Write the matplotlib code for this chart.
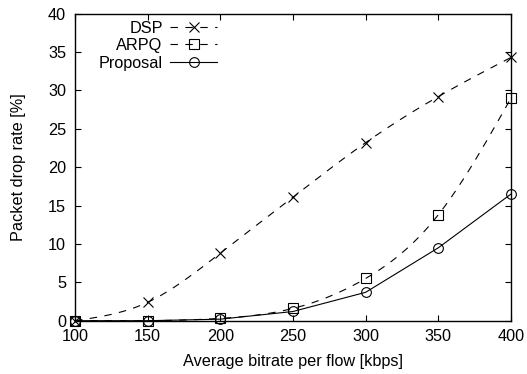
import numpy as np
import matplotlib
matplotlib.use("Agg")
import matplotlib.pyplot as plt
from matplotlib.lines import Line2D

bitrate = [100, 150, 200, 250, 300, 350, 400]
dsp = [0.0, 2.4, 8.8, 16.1, 23.2, 29.2, 34.3]
arpq = [0.0, 0.0, 0.3, 1.6, 5.5, 13.8, 29.0]
proposal = [0.0, 0.0, 0.2, 1.2, 3.7, 9.5, 16.5]
xticks = [100, 150, 200, 250, 300, 350, 400]
yticks = [0, 5, 10, 15, 20, 25, 30, 35, 40]


def natural_spline(x, y, xs):
    x = np.asarray(x, float)
    y = np.asarray(y, float)
    n = len(x)
    h = np.diff(x)
    A = np.zeros((n, n))
    b = np.zeros(n)
    A[0, 0] = 1
    A[-1, -1] = 1
    for i in range(1, n - 1):
        A[i, i - 1] = h[i - 1]
        A[i, i] = 2 * (h[i - 1] + h[i])
        A[i, i + 1] = h[i]
        b[i] = 3 * ((y[i + 1] - y[i]) / h[i] - (y[i] - y[i - 1]) / h[i - 1])
    c = np.linalg.solve(A, b)
    out = np.empty_like(xs)
    for k, xv in enumerate(xs):
        i = min(max(np.searchsorted(x, xv) - 1, 0), n - 2)
        dx = xv - x[i]
        bb = (y[i + 1] - y[i]) / h[i] - h[i] * (2 * c[i] + c[i + 1]) / 3
        d = (c[i + 1] - c[i]) / (3 * h[i])
        out[k] = y[i] + bb * dx + c[i] * dx ** 2 + d * dx ** 3
    return out


plt.rcParams['font.family'] = ['Liberation Sans', 'DejaVu Sans']
plt.rcParams['font.size'] = 11.7

fig = plt.figure(figsize=(5.27, 3.74), dpi=100)
ax = fig.add_axes([0.1423, 0.1425, 0.9696 - 0.1423, 0.9634 - 0.1425])

xs = np.linspace(bitrate[0], bitrate[-1], 400)
dash = (0, (6.7, 6.7))
lw = 0.8
ms_x = 7
ms_s = 6.5
ms_o = 7

ax.plot(xs, natural_spline(bitrate, dsp, xs), color='black', lw=lw, linestyle=dash)
ax.plot(bitrate, dsp, linestyle='none', marker='x', ms=ms_x, mew=lw, color='black', clip_on=False)

ax.plot(xs, natural_spline(bitrate, arpq, xs), color='black', lw=lw, linestyle=dash)
ax.plot(bitrate, arpq, linestyle='none', marker='s', ms=ms_s, mew=lw, mfc='none', color='black', clip_on=False)

ax.plot(bitrate, proposal, color='black', lw=lw, linestyle='-', marker='o', ms=ms_o, mew=lw, mfc='none', clip_on=False)

ax.set_xlim(100, 400)
ax.set_ylim(0, 40)
ax.set_xticks(xticks)
ax.set_yticks(yticks)
ax.tick_params(direction='in', top=True, right=True, length=4, width=0.8)
ax.tick_params(axis='x', pad=6)
ax.tick_params(axis='y', pad=6.5)
for s in ax.spines.values():
    s.set_linewidth(1.0)

ax.set_xlabel('Average bitrate per flow [kbps]', labelpad=7)
ax.set_ylabel('Packet drop rate [%]', labelpad=16)

handles = [
    Line2D([], [], color='black', lw=lw, linestyle=dash, marker='x', ms=ms_x, mew=lw),
    Line2D([], [], color='black', lw=lw, linestyle=dash, marker='s', ms=ms_s, mew=lw, mfc='none'),
    Line2D([], [], color='black', lw=lw, linestyle='-', marker='o', ms=ms_o, mew=lw, mfc='none'),
]
leg = ax.legend(handles, ['DSP', 'ARPQ', 'Proposal'], loc='upper right',
                bbox_to_anchor=(0.326, 0.977), frameon=False, markerfirst=False,
                handlelength=2.9, handletextpad=0.45, labelspacing=0.15,
                borderaxespad=0.0, borderpad=0.0)
for vp in leg._legend_handle_box.get_children():
    vp.align = 'right'

fig.savefig('out.png', dpi=100)
